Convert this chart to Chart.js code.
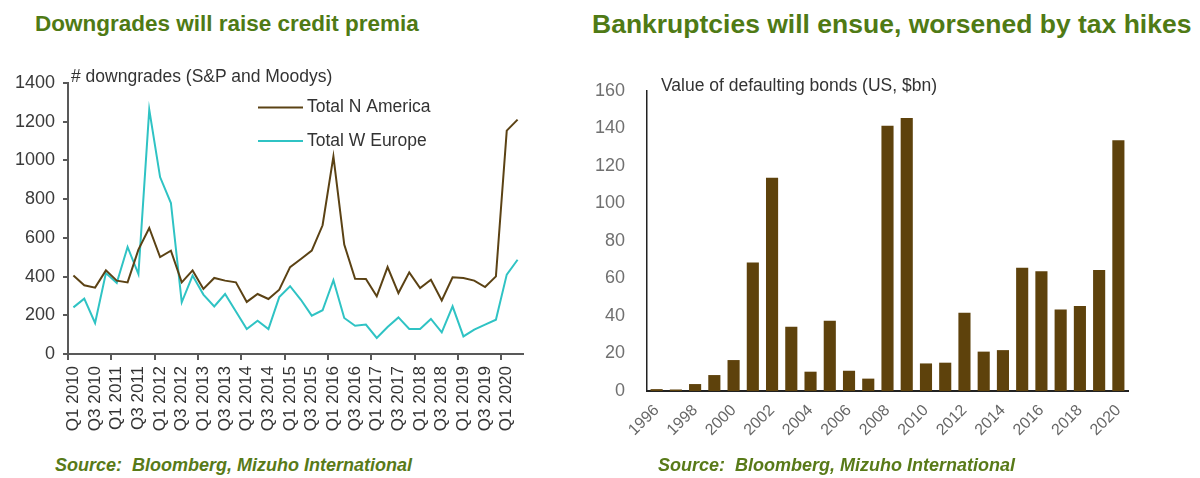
<!DOCTYPE html>
<html>
<head>
<meta charset="utf-8">
<title>Downgrades and bankruptcies</title>
<script src="https://cdn.jsdelivr.net/npm/chart.js@4.4.0/dist/chart.umd.min.js"></script>
<style>
  body {
    margin: 0;
    width: 1200px;
    height: 478px;
    background: #fff;
    position: relative;
    overflow: hidden;
    font-family: "Liberation Sans", Arial, sans-serif;
  }
  .title {
    position: absolute;
    font-weight: bold;
    color: #4f7a15;
    white-space: nowrap;
  }
  .sub {
    position: absolute;
    font-size: 17.5px;
    line-height: 20px;
    color: #333;
    white-space: nowrap;
  }
  .source {
    position: absolute;
    font-weight: bold;
    font-style: italic;
    font-size: 18px;
    line-height: 20px;
    color: #587a18;
    white-space: nowrap;
  }
  canvas { position: absolute; }
</style>
</head>
<body>
<div class="title" style="left:35px; top:11px; font-size:22.5px; line-height:26px;">Downgrades will raise credit premia</div>
<div class="title" style="left:592px; top:9px; font-size:26.5px; line-height:30px;">Bankruptcies will ensue, worsened by tax hikes</div>

<canvas id="downgrades" width="560" height="390" style="left:0; top:60px;"></canvas>
<canvas id="defaults" width="610" height="400" style="left:590px; top:60px;"></canvas>

<div class="sub" style="left:71px; top:66px;"># downgrades (S&amp;P and Moodys)</div>
<div class="sub" style="left:661px; top:75px;">Value of defaulting bonds (US, $bn)</div>

<div class="source" style="left:55px; top:455px;">Source:&nbsp; Bloomberg, Mizuho International</div>
<div class="source" style="left:658px; top:455px;">Source:&nbsp; Bloomberg, Mizuho International</div>

<script>
// quarterly downgrade counts, Q1 2010 - Q2 2020
var quarters = [
    "Q1 2010", "Q2 2010", "Q3 2010", "Q4 2010",
    "Q1 2011", "Q2 2011", "Q3 2011", "Q4 2011",
    "Q1 2012", "Q2 2012", "Q3 2012", "Q4 2012",
    "Q1 2013", "Q2 2013", "Q3 2013", "Q4 2013",
    "Q1 2014", "Q2 2014", "Q3 2014", "Q4 2014",
    "Q1 2015", "Q2 2015", "Q3 2015", "Q4 2015",
    "Q1 2016", "Q2 2016", "Q3 2016", "Q4 2016",
    "Q1 2017", "Q2 2017", "Q3 2017", "Q4 2017",
    "Q1 2018", "Q2 2018", "Q3 2018", "Q4 2018",
    "Q1 2019", "Q2 2019", "Q3 2019", "Q4 2019",
    "Q1 2020", "Q2 2020"
];
var northAmerica = [
    405, 355, 343, 432, 379, 370, 539, 651, 501, 534,
    370, 432, 336, 393, 379, 370, 269, 310, 284, 332,
    449, 491, 534, 665, 1021, 565, 389, 387, 298, 449,
    315, 422, 341, 384, 277, 396, 393, 379, 346, 401,
    1154, 1211
];
var westEurope = [
    241, 286, 160, 418, 367, 553, 413, 1262, 914, 780,
    267, 405, 307, 246, 310, 220, 129, 172, 129, 294,
    350, 280, 198, 226, 381, 186, 146, 152, 83, 139,
    189, 129, 129, 181, 112, 246, 91, 126, 152, 177,
    410, 487
];

// yearly value of defaulting US bonds, $bn
var years = [
    "1996", "1997", "1998", "1999", "2000", "2001", "2002", "2003", "2004",
    "2005", "2006", "2007", "2008", "2009", "2010", "2011", "2012", "2013",
    "2014", "2015", "2016", "2017", "2018", "2019", "2020"
];
var defaultValues = [
    1.0, 0.8, 3.7, 8.5, 16.5, 68.6, 113.8, 34.3, 10.3,
    37.5, 10.8, 6.6, 141.5, 145.6, 14.7, 15.1, 41.7, 21.0,
    21.8, 65.7, 63.9, 43.5, 45.3, 64.5, 133.7
];

var FONT = '"Liberation Sans", Arial, sans-serif';
var BROWN = '#5b4214';
var TEAL = '#2fc3c4';

Chart.defaults.font.family = FONT;
Chart.defaults.animation = false;

// legend drawn inside the plot, stacked like the original
const insideLegend = {
    id: 'insideLegend',
    afterDraw(chart, args, opts) {
        const ctx = chart.ctx;
        ctx.save();
        ctx.font = '17.5px ' + FONT;
        ctx.fillStyle = '#333';
        ctx.textBaseline = 'middle';
        chart.data.datasets.forEach(function (ds, i) {
            var y = opts.y + i * opts.rowGap;
            ctx.strokeStyle = ds.borderColor;
            ctx.lineWidth = 2;
            ctx.beginPath();
            ctx.moveTo(opts.x, y);
            ctx.lineTo(opts.x + opts.lineLen, y);
            ctx.stroke();
            ctx.fillText(ds.label, opts.x + opts.lineLen + 4, y);
        });
        ctx.restore();
    }
};

// plain numbers on the value axes (no thousands separator)
function plainTick(v) { return String(v); }

// left chart: downgrades
new Chart(document.getElementById('downgrades'), {
    type: 'line',
    data: {
        labels: quarters,
        datasets: [
            { label: 'Total N America', data: northAmerica, borderColor: BROWN, borderWidth: 2, pointRadius: 0, tension: 0 },
            { label: 'Total W Europe', data: westEurope, borderColor: TEAL, borderWidth: 2, pointRadius: 0, tension: 0 }
        ]
    },
    options: {
        responsive: false,
        layout: { padding: { top: 23, right: 37, left: 0, bottom: 0 } },
        plugins: {
            legend: { display: false },
            tooltip: { enabled: false },
            insideLegend: { x: 258, y: 47.5, rowGap: 33.5, lineLen: 45 }
        },
        scales: {
            x: {
                offset: true,
                afterFit: function (scale) { scale.height = 96; },
                border: { color: '#595959', width: 2 },
                grid: {
                    offset: true,
                    drawOnChartArea: false,
                    tickLength: 6,
                    lineWidth: 2,
                    color: function (c) { return c.index % 4 === 0 ? '#595959' : 'rgba(0,0,0,0)'; }
                },
                ticks: {
                    autoSkip: false,
                    maxRotation: 90,
                    minRotation: 90,
                    padding: 6,
                    color: '#333',
                    font: { size: 17 },
                    callback: function (v, i) { return i % 2 === 0 ? quarters[i] : ''; }
                }
            },
            y: {
                min: 0,
                max: 1400,
                afterFit: function (scale) { scale.width = 68; },
                border: { color: '#595959', width: 2 },
                grid: { drawOnChartArea: false, tickLength: 5, lineWidth: 2, color: '#595959' },
                ticks: { stepSize: 200, padding: 8, color: '#3a3a3a', font: { size: 18 }, callback: plainTick }
            }
        }
    },
    plugins: [insideLegend]
});

// right chart: defaulting bonds
new Chart(document.getElementById('defaults'), {
    type: 'bar',
    data: {
        labels: years,
        datasets: [{
            label: 'Value of defaulting bonds',
            data: defaultValues,
            backgroundColor: '#5e420c',
            categoryPercentage: 1.0,
            barPercentage: 0.63
        }]
    },
    options: {
        responsive: false,
        layout: { padding: { top: 31, right: 72, left: 0, bottom: 0 } },
        plugins: {
            legend: { display: false },
            tooltip: { enabled: false }
        },
        scales: {
            x: {
                afterFit: function (scale) { scale.height = 69; },
                border: { color: '#222', width: 2 },
                grid: { display: false },
                ticks: {
                    autoSkip: false,
                    maxRotation: 45,
                    minRotation: 45,
                    padding: 2,
                    color: '#666',
                    font: { size: 16 },
                    callback: function (v, i) { return i % 2 === 0 ? years[i] : ''; }
                }
            },
            y: {
                min: 0,
                max: 160,
                afterFit: function (scale) { scale.width = 57; },
                border: { color: '#222', width: 1.5 },
                grid: { display: false },
                ticks: { stepSize: 20, padding: 14, color: '#707070', font: { size: 18 }, callback: plainTick }
            }
        }
    }
});
</script>
</body>
</html>
